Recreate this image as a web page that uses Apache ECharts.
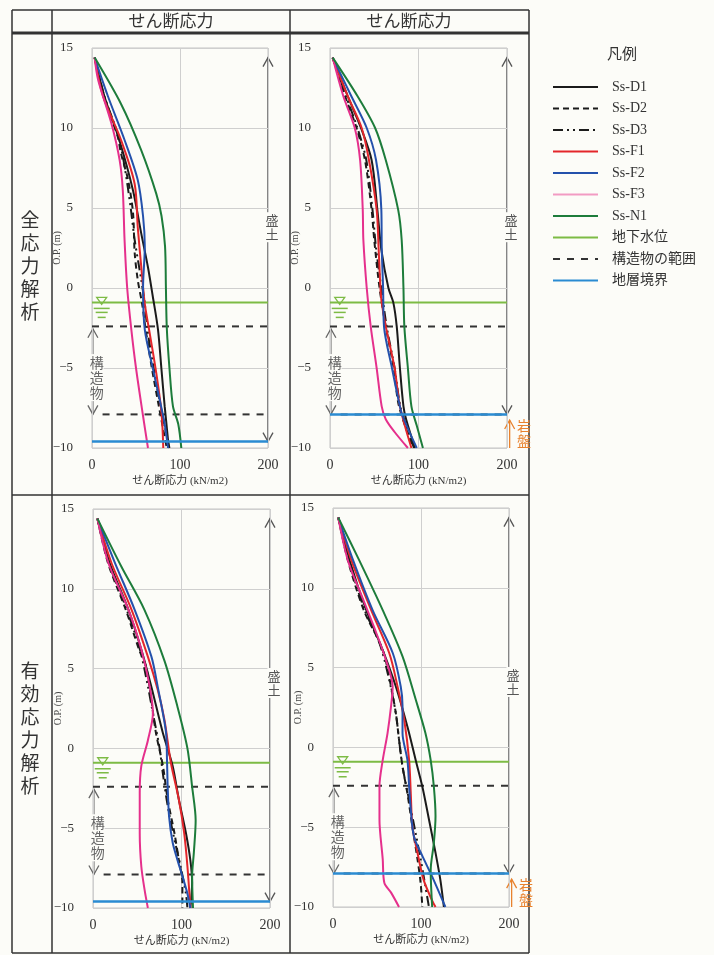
<!DOCTYPE html>
<html>
<head>
<meta charset="utf-8">
<script src="https://cdn.jsdelivr.net/npm/echarts@6/dist/echarts.min.js"></script>
<style>
  html, body { margin: 0; background: #fcfcf8; }
  #chart { width: 714px; height: 955px; }
</style>
</head>
<body>
<div id="chart"></div>
<script>
// series names, in legend order
const curveNames = ['Ss-D1', 'Ss-D2', 'Ss-D3', 'Ss-F1', 'Ss-F2', 'Ss-F3', 'Ss-N1'];
const refNames = ['地下水位', '構造物の範囲', '地層境界'];
const xTicks = [0, 100, 200];
const yTicks = [-10, -5, 0, 5, 10, 15];

// reference levels (O.P. m)
const waterLevel = -0.9;
const structTop = -2.4;
const structBottom = -7.9;
const layerBoundary = [-9.6, -7.9, -9.6, -7.9]; // per panel

// [stress kN/m2, O.P. m]  -- top left: 全応力解析 (left)
const tlD1 = [[3,14.4],[14,12],[31,9.25],[46.6,6.1],[56,3.4],[63.6,1.3],[69,-0.5],[75,-2.6],[78.8,-5],[82.6,-7.4],[86.4,-9.5],[87,-10]];
const tlD2 = [[3,14.4],[13,12],[29,9.5],[33,8.4],[41,6.75],[46.6,4.7],[48.5,2.2],[52,0.5],[57,-1],[61,-2.6],[68,-5],[76,-7.4],[85,-10]];
const tlD3 = [[3,14.4],[14,12],[30,9.5],[37,7.6],[44,5],[48.5,3],[56,0.5],[60,-1],[63,-2.6],[70,-5],[78,-7.4],[88,-10]];
const tlF1 = [[3,14.4],[12.5,12],[33,9.25],[48.5,6.5],[52,3.8],[56,1.3],[60,-1],[65.5,-2.8],[73,-5.3],[79,-7.8],[81,-10]];
const tlF2 = [[3,14.4],[18,12],[37,9.25],[52,6.75],[58,4.5],[60,2.6],[58,0],[60,-2.6],[69,-5],[77,-7],[82.6,-8.5],[86.4,-10]];
const tlF3 = [[3,14.4],[7,13],[22,10.3],[31.4,8],[35,6.1],[37,3],[40,0],[44.7,-2.6],[50,-5],[58,-8],[63.6,-10]];
const tlN1 = [[3,14.4],[33,11.5],[56,8.6],[73,5.9],[79,4.5],[83,2.6],[84,0],[85,-2.5],[88,-5],[92,-7.4],[98,-8.5],[101.5,-10]];

// top right: 全応力解析 (right)
const trD1 = [[3,14.4],[20,12],[35,10],[47,8],[53.5,4.9],[58,2.4],[66,0],[71.5,-0.9],[75.4,-2.4],[79,-5],[83,-7.4],[86,-8.2],[96,-10]];
const trD2 = [[3,14.4],[17,12],[30,10],[39.5,8],[47,4.9],[50,3],[56,0],[63,-2.4],[72,-5],[78,-7.4],[94,-10]];
const trD3 = [[3,14.4],[18,12],[31,10],[41,8],[48,4.9],[52,2.5],[58,0],[64,-2.4],[73,-5],[80,-7.5],[95,-10]];
const trF1 = [[3,14.4],[20,12],[35.8,10],[44,8],[52.7,4.9],[55,2.4],[57,0],[58.4,-0.9],[63,-2.4],[73,-5],[79,-7.4],[92,-10]];
const trF2 = [[3,14.4],[24,12],[41.5,10],[52,8],[58,4.9],[58.5,2.4],[60,0],[61,-2.4],[70,-5],[79,-7.4],[82,-8],[98,-10]];
const trF3 = [[3,14.4],[15,12],[28,10],[34,8],[37,4.9],[37.7,3],[41.5,0],[46,-2.4],[52.7,-5],[58.4,-7.4],[63,-8.2],[73,-9],[88,-10]];
const trN1 = [[3,14.4],[31,12],[51,10],[63,8],[77,4.9],[81,3],[83,0],[84,-2.4],[88,-5],[92,-7.4],[98,-8.6],[105,-10]];

// bottom left: 有効応力解析 (left)
const blD1 = [[5,14.4],[19,11.6],[40,8.7],[54.6,6.2],[65.8,3.9],[78.8,1],[90,-1.1],[97,-3.2],[105,-5.3],[110,-7],[112,-8.4],[110,-10]];
const blD2 = [[5,14.4],[17,11.6],[37,8.7],[52,6.2],[60,5.1],[66,3],[71,1],[79,-1.1],[84.4,-3.2],[92,-5.3],[97,-7],[101,-8.4],[101,-10]];
const blD3 = [[5,14.4],[18,11.6],[38,8.7],[53,6.2],[62,3.9],[67.7,2.2],[75,0.1],[79,-1.6],[84.4,-3.6],[92,-5.7],[99,-7.4],[105,-9.1],[106.7,-10]];
const blF1 = [[5,14.4],[21,11.6],[43.5,8.7],[62,5.75],[73,3.7],[80.7,1.8],[88,-0.9],[97,-3.2],[103,-5.3],[106.7,-7.4],[110,-10]];
const blF2 = [[5,14.4],[25,11.6],[47,8.7],[66,5.75],[73,3.9],[82.5,1],[83.6,-0.7],[84.4,-2.4],[86,-4.3],[90,-5.9],[95.5,-7],[101,-8],[106.7,-9.1],[110,-10]];
const blF3 = [[5,14.4],[17.5,11.6],[40,8.7],[54.6,6.2],[64,3.9],[67.7,2.2],[62,0.5],[54.6,-1.1],[52.8,-2.8],[52.8,-5.3],[54.6,-7.4],[58.4,-8.9],[62,-10]];
const blN1 = [[5,14.4],[32,11.4],[58,8.7],[80.7,5.5],[95.5,2.6],[106.7,0],[112,-2.4],[116,-4.5],[114,-6.5],[112,-8],[113,-10]];

// bottom right: 有効応力解析 (right)
const brD1 = [[6,14.4],[19,11.7],[37.8,8.6],[56.5,6.1],[71.5,3.8],[84.6,1.3],[94,-0.8],[101.5,-2.45],[109,-4.5],[116.5,-6.6],[122,-8.3],[126,-10]];
const brD2 = [[6,14.4],[17,11.7],[35,8.6],[56.5,6.1],[66,3.8],[71.5,2.1],[75,0.5],[79,-1.2],[84.6,-2.9],[90.3,-5],[96,-7],[99.6,-8.5],[101.5,-10]];
const brD3 = [[6,14.4],[18,11.7],[36,8.6],[53,6.5],[64,4.2],[71.5,2.1],[75,0.5],[79,-1.2],[86.5,-3.3],[94,-5.4],[99.6,-7],[105,-8.7],[109,-10]];
const brF1 = [[6,14.4],[21,11.7],[43.4,8.6],[64,5.9],[73.4,3.8],[81,1.7],[86.5,-0.8],[88.4,-2.9],[90.3,-5],[96,-6.6],[103,-8.3],[112.7,-9.6],[116.5,-10]];
const brF2 = [[6,14.4],[23,11.7],[45,8.6],[68,5.9],[77,3.8],[79,2.6],[79,0.9],[84.6,-0.8],[86.5,-2.45],[88.4,-3.9],[92,-5.6],[101.5,-6.8],[112.7,-8.1],[127.7,-10]];
const brF3 = [[6,14.4],[17,11.7],[34,9.3],[49,7.2],[60,5.5],[67.8,3.8],[66,2.6],[62,0.9],[56.5,-0.8],[52.8,-2.45],[52.8,-4.5],[56.5,-7],[58.4,-8.5],[66,-9.1],[75,-10]];
const brN1 = [[6,14.4],[30,11.7],[56.5,8.6],[79,5.7],[94,3],[105,0.9],[111,-0.8],[114.6,-2.45],[116.5,-4.3],[114.6,-6],[111,-7.7],[112.7,-10]];

const panels = [
  [tlD1, tlD2, tlD3, tlF1, tlF2, tlF3, tlN1],
  [trD1, trD2, trD3, trF1, trF2, trF3, trN1],
  [blD1, blD2, blD3, blF1, blF2, blF3, blN1],
  [brD1, brD2, brD3, brF1, brF2, brF3, brN1],
];

const lineStyles = {
  'Ss-D1': { color: '#1b1b1b', type: 'solid' },
  'Ss-D2': { color: '#1b1b1b', type: [6, 4] },
  'Ss-D3': { color: '#1b1b1b', type: [10, 4, 2, 4, 2, 4] },
  'Ss-F1': { color: '#e3262b', type: 'solid' },
  'Ss-F2': { color: '#2451ac', type: 'solid' },
  'Ss-F3': { color: '#e5308c', type: 'solid' },
  'Ss-N1': { color: '#1d7c3b', type: 'solid' },
};

const serif = "'Liberation Serif', 'Noto Sans CJK JP', serif";
const gothic = "'Noto Sans CJK JP', sans-serif";
const minus = v => (v < 0 ? '\u2212' + (-v) : String(v));

const grids = [
  { left: 92, top: 48, width: 176, height: 400 },
  { left: 330, top: 48, width: 177, height: 400 },
  { left: 93, top: 509, width: 177, height: 399 },
  { left: 333, top: 508, width: 176, height: 399 },
];

const xAxes = grids.map((g, i) => ({
  gridIndex: i, type: 'value', min: 0, max: 200, interval: 100,
  name: 'せん断応力 (kN/m2)', nameLocation: 'middle', nameGap: 28, nameMoveOverlap: false,
  nameTextStyle: { fontFamily: serif, fontSize: 11, color: '#333' },
  axisLine: { show: false }, axisTick: { show: false },
  axisLabel: { margin: 10, fontFamily: serif, fontSize: 14, color: '#333' },
  splitLine: { lineStyle: { color: '#cfcfcf', width: 1 } },
}));

const yAxes = grids.map((g, i) => ({
  gridIndex: i, type: 'value', min: -10, max: 15, interval: 5,
  name: 'O.P. (m)', nameLocation: 'middle', nameGap: 30, nameRotate: 90, nameMoveOverlap: false,
  nameTextStyle: { fontFamily: serif, fontSize: 10, color: '#444' },
  axisLine: { show: false }, axisTick: { show: false },
  axisLabel: { margin: 19, fontFamily: serif, fontSize: 13, color: '#333', formatter: minus },
  splitLine: { lineStyle: { color: '#cfcfcf', width: 1 } },
}));

const series = [];
panels.forEach((curves, i) => {
  const bnd = layerBoundary[i];
  const base = { type: 'line', xAxisIndex: i, yAxisIndex: i, symbol: 'none', silent: true };
  series.push(Object.assign({}, base, {
    name: '地下水位', lineStyle: { color: '#7dbb45', width: 2 }, data: [[0, waterLevel], [200, waterLevel]],
  }));
  series.push(Object.assign({}, base, {
    name: '構造物の範囲', lineStyle: { color: '#333', width: 2, type: [7, 7] }, data: [[0, structTop], [200, structTop]],
  }));
  series.push(Object.assign({}, base, {
    name: '構造物の範囲', lineStyle: { color: '#333', width: 2, type: [7, 7] }, data: [[12, structBottom], [200, structBottom]],
  }));
  curveNames.forEach((name, k) => {
    series.push(Object.assign({}, base, {
      name, smooth: 0.3,
      lineStyle: { color: lineStyles[name].color, type: lineStyles[name].type, width: 2 },
      itemStyle: { color: lineStyles[name].color },
      data: curves[k],
    }));
  });
  series.push(Object.assign({}, base, {
    name: '地層境界', lineStyle: { color: '#2a8bd2', width: 2.5 }, data: [[0, bnd], [200, bnd]],
  }));
});

const legendData = curveNames.concat(refNames).map(name =>
  name === 'Ss-F3' ? { name, lineStyle: { color: '#f29bc3' } } : { name });

// table frame (layout only)
const frame = [
  [12, 10, 529, 10], [12, 953, 529, 953], [12, 10, 12, 953], [529, 10, 529, 953],
  [52, 10, 52, 953], [290, 10, 290, 953], [12, 495, 529, 495],
].map(p => ({ type: 'line', shape: { x1: p[0], y1: p[1], x2: p[2], y2: p[3] }, style: { stroke: '#333', lineWidth: 1.5 }, silent: true }));
frame.push({ type: 'line', shape: { x1: 12, y1: 33, x2: 529, y2: 33 }, style: { stroke: '#333', lineWidth: 3 }, silent: true });

const staticText = [
  { x: 171, y: 21, text: 'せん断応力', fontSize: 17 },
  { x: 409, y: 21, text: 'せん断応力', fontSize: 17 },
  { x: 30, y: 266, text: '全\n応\n力\n解\n析', fontSize: 19, lineHeight: 23 },
  { x: 30, y: 728, text: '有\n効\n応\n力\n解\n析', fontSize: 19, lineHeight: 23 },
  { x: 622, y: 53, text: '凡例', fontSize: 15 },
].map(t => ({
  type: 'text', x: t.x, y: t.y, silent: true,
  style: { text: t.text, fontSize: t.fontSize, lineHeight: t.lineHeight, fontFamily: gothic, fill: '#333', align: 'center', verticalAlign: 'middle' },
}));

const chart = echarts.init(document.getElementById('chart'));
chart.setOption({
  backgroundColor: '#fcfcf8',
  animation: false,
  grid: grids.map(g => Object.assign({ show: true, borderColor: '#c4c4c4', borderWidth: 1, backgroundColor: 'transparent' }, g)),
  xAxis: xAxes,
  yAxis: yAxes,
  legend: {
    left: 552, top: 80, orient: 'vertical', selectedMode: false, padding: 0,
    itemWidth: 45, itemHeight: 14, itemGap: 7.5,
    itemStyle: { opacity: 0 },
    textStyle: { fontFamily: serif, fontSize: 14, color: '#333', padding: [0, 0, 0, 9] },
    data: legendData,
  },
  series,
  graphic: frame.concat(staticText),
});

// annotations placed from data coordinates
const px = (i, x, y) => chart.convertToPixel({ gridIndex: i }, [x, y]);
const chevron = (x, y, dir, color) => ({
  type: 'polyline', silent: true,
  shape: { points: [[x - 5, y + 9 * dir], [x, y], [x + 5, y + 9 * dir]] },
  style: { stroke: color, lineWidth: 1.3, fill: null },
});
const vline = (a, b, color) => ({
  type: 'line', silent: true,
  shape: { x1: a[0], y1: a[1], x2: b[0], y2: b[1] }, style: { stroke: color, lineWidth: 1.3 },
});
const vtext = (p, text, color, size, bg) => ({
  type: 'text', x: p[0], y: p[1], silent: true, z: 10,
  style: { text, fontFamily: gothic, fontSize: size, lineHeight: size + 1, fill: color, align: 'center', verticalAlign: 'middle', backgroundColor: bg, padding: [1, 0] },
});

const moriY = [3.8, 3.8, 4.1, 4.1];
const extra = [];
for (let i = 0; i < 4; i++) {
  const bnd = layerBoundary[i];
  // 盛土 arrow along the right edge
  const top = px(i, 200, 14.4), bot = px(i, 200, bnd);
  extra.push(vline(top, bot, '#555'), chevron(top[0], top[1], 1, '#555'), chevron(bot[0], bot[1], -1, '#555'));
  const m = px(i, 200, moriY[i]);
  extra.push(vtext([m[0] + 4, m[1]], '盛\n土', '#555', 13, '#fcfcf8'));
  // 構造物 arrow along the left edge
  const s1 = px(i, 1, structTop - 0.15), s2 = px(i, 1, structBottom);
  extra.push(vline(s1, s2, '#666'), chevron(s1[0], s1[1], 1, '#666'), chevron(s2[0], s2[1], -1, '#666'));
  const s = px(i, 3, -5.6);
  extra.push(vtext([s[0] + 2, s[1]], '構\n造\n物', '#666', 14, '#fcfcf8'));
  // water level mark
  const w = px(i, 11, waterLevel);
  extra.push({
    type: 'polygon', silent: true, z: 10,
    shape: { points: [[w[0] - 5, w[1] - 5], [w[0] + 5, w[1] - 5], [w[0], w[1] + 2]] },
    style: { stroke: '#7dbb45', lineWidth: 1.3, fill: null },
  });
  [[6, 6], [10, 4], [15, 2]].forEach(([dy, hw]) => {
    extra.push({ type: 'line', silent: true, shape: { x1: w[0] - hw - 2, y1: w[1] + dy, x2: w[0] + hw + 2, y2: w[1] + dy }, style: { stroke: '#7dbb45', lineWidth: 1.5 } });
  });
  // 岩盤 in the right-hand panels
  if (i === 1 || i === 3) {
    const r1 = px(i, 203, -10), r2 = px(i, 203, bnd - 0.35);
    extra.push(vline(r1, r2, '#e8822e'), chevron(r2[0], r2[1], 1, '#e8822e'));
    const rt = px(i, 200, -9.1);
    extra.push(vtext([rt[0] + 17, rt[1]], '岩\n盤', '#e8822e', 14, null));
  }
}
chart.setOption({ graphic: frame.concat(staticText, extra) });
</script>
</body>
</html>
